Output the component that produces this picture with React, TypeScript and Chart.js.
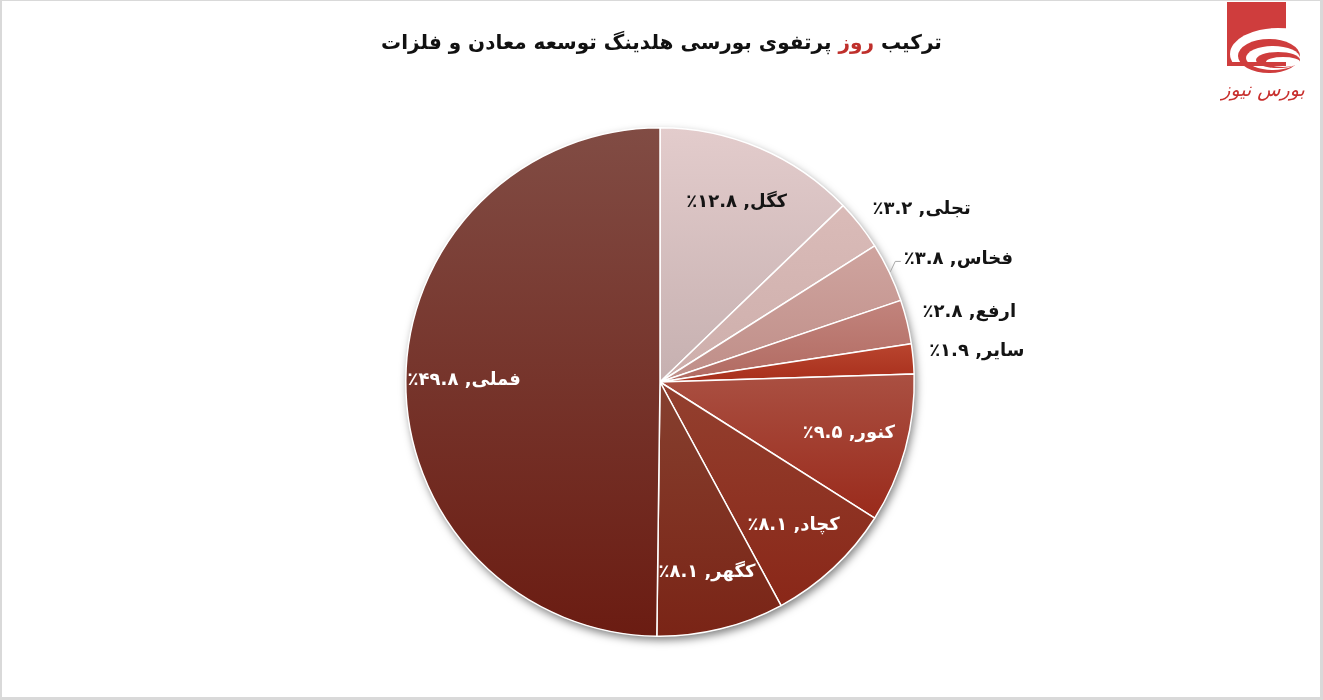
import React, { useEffect, useRef } from "react";
import { Chart, registerables } from "chart.js";

Chart.register(...registerables);

const labels = ["کگل", "تجلی", "فخاس", "ارفع", "سایر", "کنور", "کچاد", "کگهر", "فملی"];
const values = [12.8, 3.2, 3.8, 2.8, 1.9, 9.5, 8.1, 8.1, 49.8];
const colorsTop = ["#e3cccc", "#dabbb8", "#cfa49f", "#c2847d", "#b9452f", "#aa5042", "#93402f", "#86402f", "#814c44"];
const colorsBottom = ["#c6b0b0", "#cdaeab", "#bf8e88", "#b16a61", "#a82f1c", "#9a2a1b", "#8a2718", "#7a2416", "#6b1c12"];
const labelInside = [true, false, false, false, false, true, true, true, true];
const labelDark = [true, true, true, true, true, false, false, false, false];
const titleBefore = "ترکیب ";
const titleRed = "روز";
const titleAfter = " پرتفوی بورسی هلدینگ توسعه معادن و فلزات";

const FONT = "'DejaVu Sans', 'Noto Sans', sans-serif";

const toFa = (n: number) =>
  n.toFixed(1).replace(/[0-9]/g, (d) => "۰۱۲۳۴۵۶۷۸۹"[Number(d)]);

const total = values.reduce((a, b) => a + b, 0);

function sliceGradient(c: any) {
  const i = c.dataIndex;
  const chart = c.chart;
  const area = chart.chartArea;
  if (!area) return colorsBottom[i];
  const cx = (area.left + area.right) / 2;
  const cy = (area.top + area.bottom) / 2;
  const r = Math.min(area.width, area.height) / 2;
  let before = 0;
  for (let k = 0; k < i; k++) before += values[k];
  const a0 = -Math.PI / 2 + (before / total) * Math.PI * 2;
  const a1 = a0 + (values[i] / total) * Math.PI * 2;
  let minY = cy, maxY = cy;
  for (let s = 0; s <= 40; s++) {
    const a = a0 + ((a1 - a0) * s) / 40;
    const y = cy + r * Math.sin(a);
    minY = Math.min(minY, y);
    maxY = Math.max(maxY, y);
  }
  if (maxY - minY < 1) maxY = minY + 1;
  const g = chart.ctx.createLinearGradient(0, minY, 0, maxY);
  g.addColorStop(0, colorsTop[i]);
  g.addColorStop(1, colorsBottom[i]);
  return g;
}

const shadowPlugin = {
  id: "pieShadow",
  beforeDatasetsDraw(chart: any) {
    const meta = chart.getDatasetMeta(0);
    const el = meta.data[0];
    if (!el) return;
    const ctx = chart.ctx;
    ctx.save();
    ctx.shadowColor = "rgba(0,0,0,0.5)";
    ctx.shadowBlur = 8;
    ctx.shadowOffsetX = 2;
    ctx.shadowOffsetY = 4;
    ctx.beginPath();
    ctx.arc(el.x, el.y, el.outerRadius, 0, Math.PI * 2);
    ctx.fillStyle = "#ffffff";
    ctx.fill();
    ctx.restore();
  },
};

const labelPlugin = {
  id: "pieLabels",
  afterDatasetsDraw(chart: any) {
    const meta = chart.getDatasetMeta(0);
    const ctx = chart.ctx;
    ctx.save();
    ctx.font = `bold 18px ${FONT}`;
    ctx.textBaseline = "middle";
    ctx.direction = "rtl";
    meta.data.forEach((el: any, i: number) => {
      const mid = (el.startAngle + el.endAngle) / 2;
      const R = el.outerRadius;
      const text = `${labels[i]}, ${toFa(values[i])}٪`;
      ctx.fillStyle = labelDark[i] ? "#141414" : "#ffffff";
      if (labelInside[i]) {
        const d = R * 0.77;
        ctx.textAlign = "center";
        ctx.fillText(text, el.x + d * Math.cos(mid), el.y + d * Math.sin(mid));
      } else {
        const d = R + 16;
        const ax = el.x + d * Math.cos(mid);
        const ay = el.y + d * Math.sin(mid) - 6;
        const w = ctx.measureText(text).width;
        ctx.textAlign = "center";
        ctx.fillText(text, ax + w / 2, ay);
        if (labels[i] === "فخاس") {
          const ex = el.x + (R + 1) * Math.cos(mid);
          const ey = el.y + (R + 1) * Math.sin(mid);
          ctx.strokeStyle = "#a6a6a6";
          ctx.lineWidth = 1;
          ctx.beginPath();
          ctx.moveTo(ex, ey);
          ctx.lineTo(ex + 5, ay + 2);
          ctx.lineTo(ax - 3, ay + 2);
          ctx.stroke();
        }
      }
    });
    ctx.restore();
  },
};

export default function App() {
  const ref = useRef<HTMLCanvasElement>(null);

  useEffect(() => {
    document.body.style.margin = "0";
    const canvas = ref.current;
    if (!canvas) return;
    const chart = new Chart(canvas, {
      type: "pie",
      data: {
        labels,
        datasets: [
          {
            data: values,
            backgroundColor: sliceGradient as any,
            borderColor: "#ffffff",
            borderWidth: 1.5,
          },
        ],
      },
      options: {
        animation: false,
        responsive: false,
        maintainAspectRatio: false,
        layout: { padding: { left: 405, right: 408, top: 127, bottom: 63 } },
        plugins: {
          legend: { display: false },
          title: { display: false },
          tooltip: { enabled: false },
        },
      },
      plugins: [shadowPlugin, labelPlugin],
    });
    return () => chart.destroy();
  }, []);

  return (
    <div style={{ position: "fixed", left: 0, top: 0, width: 1323, height: 700, background: "#fff", overflow: "hidden" }}>
      <canvas ref={ref} width={1323} height={700} style={{ position: "absolute", left: 0, top: 0 }} />
      <div
        dir="rtl"
        style={{
          position: "absolute",
          left: 0,
          top: 27,
          width: 1323,
          textAlign: "center",
          fontFamily: FONT,
          fontWeight: "bold",
          fontSize: 20,
          color: "#111",
          lineHeight: "30px",
        }}
      >
        {titleBefore}
        <span style={{ color: "#bf2f2b" }}>{titleRed}</span>
        {titleAfter}
      </div>
      <svg width={100} height={115} style={{ position: "absolute", left: 1220, top: 0 }}>
        <defs>
          <clipPath id="lg">
            <rect x={7} y={2} width={59} height={64} />
          </clipPath>
        </defs>
        <rect x={7} y={2} width={59} height={64} fill="#cf3d3d" />
        <g clipPath="url(#lg)">
          <ellipse cx={58} cy={54} rx={48} ry={26} fill="#fff" />
        </g>
        <ellipse cx={49} cy={56} rx={31} ry={17} fill="#cf3d3d" />
        <ellipse cx={53} cy={58} rx={27} ry={12} fill="#fff" />
        <ellipse cx={58} cy={60} rx={22} ry={8} fill="#cf3d3d" />
        <ellipse cx={63} cy={62} rx={17} ry={5} fill="#fff" />
        <rect x={7} y={62} width={59} height={4} fill="#cf3d3d" />
        <text
          x={43}
          y={96}
          textAnchor="middle"
          direction="rtl"
          fontFamily={FONT}
          fontStyle="italic"
          fontSize={19}
          fill="#c8302e"
        >
          بورس نیوز
        </text>
      </svg>
      <div
        style={{
          position: "absolute",
          left: 0,
          top: 0,
          width: 1323,
          height: 700,
          boxSizing: "border-box",
          borderTop: "1px solid #d9d9d9",
          borderLeft: "2px solid #d9d9d9",
          borderRight: "3px solid #d9d9d9",
          borderBottom: "3px solid #d9d9d9",
          pointerEvents: "none",
        }}
      />
    </div>
  );
}
